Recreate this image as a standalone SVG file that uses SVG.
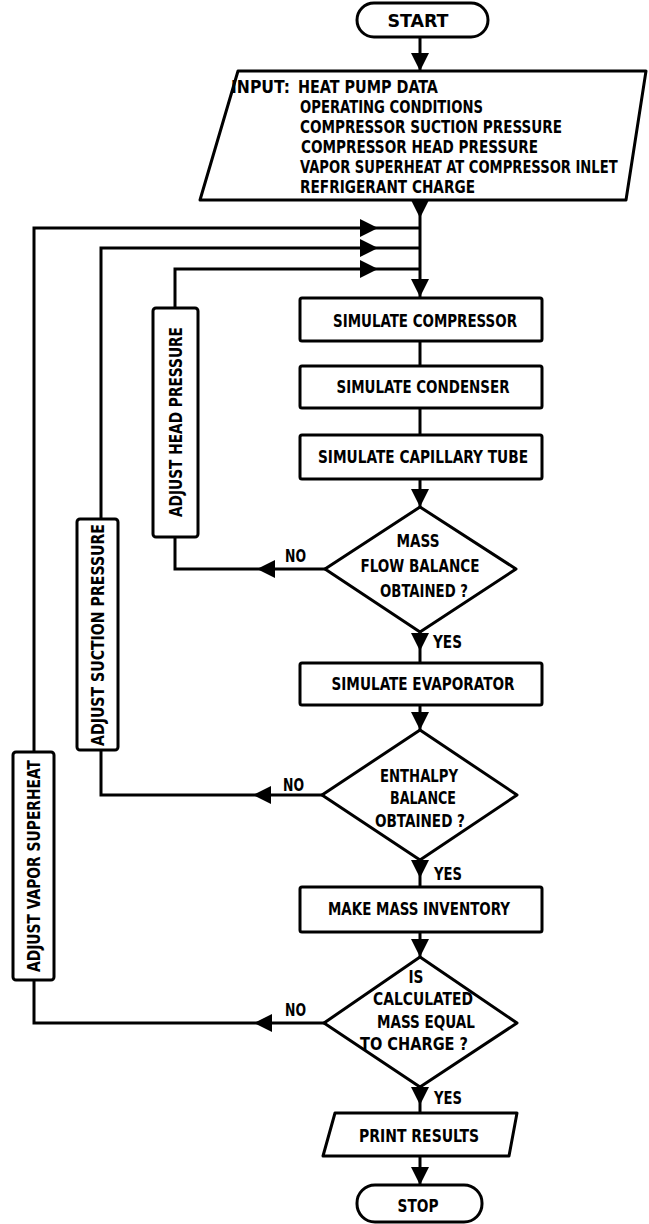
<svg xmlns="http://www.w3.org/2000/svg" width="649" height="1224" viewBox="0 0 649 1224">
<style>
.shape{fill:#fff;stroke:#000;stroke-width:3;stroke-linejoin:round}
.wire{fill:none;stroke:#000;stroke-width:3;stroke-linejoin:miter}
.ah{fill:#000;stroke:none}
text{font-family:'DejaVu Sans Condensed','Liberation Sans Narrow','Liberation Sans',sans-serif;font-weight:bold;font-size:18px;fill:#000}
.c{text-anchor:middle}
.s{font-size:17px}
.in{font-size:17px}
</style>
<defs>
<path id="ah" class="ah" d="M-9,-18 L9,-18 L0,0 Z"/>
</defs>
<g id="connectors">
<line class="wire" x1="420" y1="37" x2="420" y2="71"/>
<use href="#ah" transform="translate(420,71)"/>
<line class="wire" x1="420" y1="200" x2="420" y2="298"/>
<use href="#ah" transform="translate(420,218)"/>
<use href="#ah" transform="translate(420,297)"/>
<polyline class="wire" points="34,752 34,228 420,228"/>
<use href="#ah" transform="translate(378,228) rotate(-90)"/>
<polyline class="wire" points="101,519 101,248 420,248"/>
<use href="#ah" transform="translate(378,248) rotate(-90)"/>
<polyline class="wire" points="175,308 175,269 420,269"/>
<use href="#ah" transform="translate(378,269) rotate(-90)"/>
<line class="wire" x1="420" y1="341" x2="420" y2="366"/>
<line class="wire" x1="420" y1="408" x2="420" y2="435"/>
<line class="wire" x1="420" y1="479" x2="420" y2="507"/>
<use href="#ah" transform="translate(420,507)"/>
<polyline class="wire" points="325,569 175,569 175,537"/>
<use href="#ah" transform="translate(257,569) rotate(90)"/>
<line class="wire" x1="420" y1="632" x2="420" y2="663"/>
<use href="#ah" transform="translate(420,651)"/>
<line class="wire" x1="420" y1="705" x2="420" y2="730"/>
<use href="#ah" transform="translate(420,730)"/>
<polyline class="wire" points="322,795 101,795 101,750"/>
<use href="#ah" transform="translate(253,795) rotate(90)"/>
<line class="wire" x1="420" y1="860" x2="420" y2="887"/>
<use href="#ah" transform="translate(420,878)"/>
<line class="wire" x1="420" y1="932" x2="420" y2="957"/>
<use href="#ah" transform="translate(420,957)"/>
<polyline class="wire" points="324,1023 34,1023 34,980"/>
<use href="#ah" transform="translate(254,1023) rotate(90)"/>
<line class="wire" x1="420" y1="1087" x2="420" y2="1113"/>
<use href="#ah" transform="translate(420,1105)"/>
<line class="wire" x1="420" y1="1156" x2="420" y2="1185"/>
<use href="#ah" transform="translate(420,1185)"/>
<text x="285" y="562" textLength="21" lengthAdjust="spacingAndGlyphs" class="s">NO</text>
<text x="433" y="648" textLength="29" lengthAdjust="spacingAndGlyphs" class="s">YES</text>
<text x="283" y="791" textLength="21" lengthAdjust="spacingAndGlyphs" class="s">NO</text>
<text x="434" y="880" textLength="28" lengthAdjust="spacingAndGlyphs" class="s">YES</text>
<text x="285" y="1016" textLength="21" lengthAdjust="spacingAndGlyphs" class="s">NO</text>
<text x="434" y="1104" textLength="28" lengthAdjust="spacingAndGlyphs" class="s">YES</text>
</g>
<g id="start">
<rect class="shape" x="357" y="3" width="131" height="34" rx="17"/>
<text x="418" y="27" class="c" textLength="61" lengthAdjust="spacingAndGlyphs">START</text>
</g>
<g id="input">
<polygon class="shape" points="238,71 646,71 626,200 200,200"/>
<text class="in" x="231" y="93" textLength="59" lengthAdjust="spacingAndGlyphs">INPUT:</text>
<text class="in" x="298" y="93" textLength="140" lengthAdjust="spacingAndGlyphs">HEAT PUMP DATA</text>
<text class="in" x="300" y="113" textLength="183" lengthAdjust="spacingAndGlyphs">OPERATING CONDITIONS</text>
<text class="in" x="300" y="133" textLength="262" lengthAdjust="spacingAndGlyphs">COMPRESSOR SUCTION PRESSURE</text>
<text class="in" x="301" y="153" textLength="237" lengthAdjust="spacingAndGlyphs">COMPRESSOR HEAD PRESSURE</text>
<text class="in" transform="translate(300,173) scale(0.88,1)" textLength="361" lengthAdjust="spacingAndGlyphs">VAPOR SUPERHEAT AT COMPRESSOR INLET</text>
<text class="in" x="300" y="193" textLength="175" lengthAdjust="spacingAndGlyphs">REFRIGERANT CHARGE</text>
</g>
<g id="compressor">
<rect class="shape" x="300" y="298" width="242" height="43" rx="2"/>
<text x="425" y="327" class="c" textLength="184" lengthAdjust="spacingAndGlyphs">SIMULATE COMPRESSOR</text>
</g>
<g id="condenser">
<rect class="shape" x="300" y="366" width="242" height="42" rx="2"/>
<text x="423" y="393" class="c" textLength="173" lengthAdjust="spacingAndGlyphs">SIMULATE CONDENSER</text>
</g>
<g id="capillary">
<rect class="shape" x="300" y="435" width="242" height="44" rx="2"/>
<text x="423" y="463" class="c" textLength="210" lengthAdjust="spacingAndGlyphs">SIMULATE CAPILLARY TUBE</text>
</g>
<g id="massflow">
<polygon class="shape" points="420,507 516,569 420,632 325,569"/>
<text x="418" y="547" class="c" textLength="43" lengthAdjust="spacingAndGlyphs">MASS</text>
<text x="420" y="572" class="c" textLength="119" lengthAdjust="spacingAndGlyphs">FLOW BALANCE</text>
<text x="424" y="597" class="c" textLength="88" lengthAdjust="spacingAndGlyphs">OBTAINED ?</text>
</g>
<g id="evaporator">
<rect class="shape" x="300" y="663" width="242" height="42" rx="2"/>
<text x="423" y="690" class="c" textLength="183" lengthAdjust="spacingAndGlyphs">SIMULATE EVAPORATOR</text>
</g>
<g id="enthalpy">
<polygon class="shape" points="420,730 517,795 420,860 322,795"/>
<text x="419" y="782" class="c" textLength="78" lengthAdjust="spacingAndGlyphs">ENTHALPY</text>
<text x="423" y="804" class="c" textLength="66" lengthAdjust="spacingAndGlyphs">BALANCE</text>
<text x="420" y="827" class="c" textLength="90" lengthAdjust="spacingAndGlyphs">OBTAINED ?</text>
</g>
<g id="inventory">
<rect class="shape" x="300" y="887" width="242" height="45" rx="2"/>
<text x="419" y="915" class="c" textLength="182" lengthAdjust="spacingAndGlyphs">MAKE MASS INVENTORY</text>
</g>
<g id="masscheck">
<polygon class="shape" points="420,957 517,1023 420,1087 324,1023"/>
<text x="416" y="983" class="c" textLength="15" lengthAdjust="spacingAndGlyphs">IS</text>
<text x="423" y="1005" class="c" textLength="100" lengthAdjust="spacingAndGlyphs">CALCULATED</text>
<text x="426" y="1028" class="c" textLength="98" lengthAdjust="spacingAndGlyphs">MASS EQUAL</text>
<text x="414" y="1050" class="c" textLength="108" lengthAdjust="spacingAndGlyphs">TO CHARGE ?</text>
</g>
<g id="print">
<polygon class="shape" points="335,1113 517,1113 509,1156 323,1156"/>
<text x="419" y="1142" class="c" textLength="120" lengthAdjust="spacingAndGlyphs">PRINT RESULTS</text>
</g>
<g id="stop">
<rect class="shape" x="357" y="1185" width="125" height="37" rx="18"/>
<text x="418" y="1212" class="c" textLength="41" lengthAdjust="spacingAndGlyphs">STOP</text>
</g>
<g id="adjust-head">
<rect class="shape" x="153" y="308" width="45" height="229" rx="3"/>
<text transform="translate(182,422) rotate(-90)" class="c" textLength="190" lengthAdjust="spacingAndGlyphs">ADJUST HEAD PRESSURE</text>
</g>
<g id="adjust-suction">
<rect class="shape" x="77" y="519" width="41" height="231" rx="3"/>
<text transform="translate(104,635) rotate(-90)" class="c" textLength="222" lengthAdjust="spacingAndGlyphs">ADJUST SUCTION PRESSURE</text>
</g>
<g id="adjust-superheat">
<rect class="shape" x="13" y="752" width="41" height="228" rx="3"/>
<text transform="translate(40,866) rotate(-90)" class="c" textLength="212" lengthAdjust="spacingAndGlyphs">ADJUST VAPOR SUPERHEAT</text>
</g>
</svg>
